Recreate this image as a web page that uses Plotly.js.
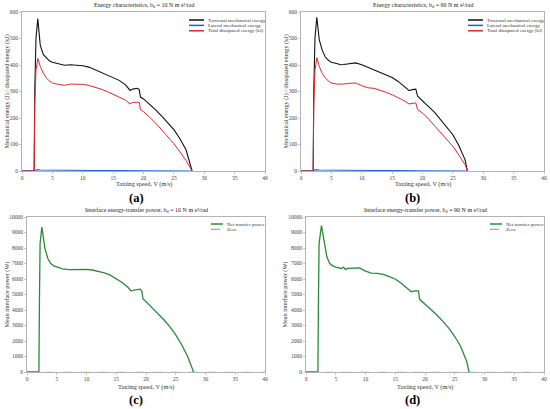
<!DOCTYPE html>
<html>
<head>
<meta charset="utf-8">
<script src="https://cdn.plot.ly/plotly-3.0.1.min.js"></script>
<style>html,body{margin:0;padding:0;background:#fff;}#chart{width:550px;height:409px;}</style>
</head>
<body>
<div id="chart"></div>
<script>
// ---------- DATA ----------
var energyNames = ["Torsional mechanical energy", "Lateral mechanical energy", "Total dissipated energy (kJ)"];
var powerNames = ["Net transfer power", "Zero"];

// Panel (a) b_d = 10
var a_speed = [0,2.0,2.1,2.3,2.6,2.8,3,3.5,4,4.5,5,6,7,8,9,10,11,12,13,14,15,16,17,17.8,18.2,19,19.3,19.5,20,21,22,23,24,25,26,27,28];
var a_torsional = [0,0,300,500,575,530,475,440,426,416,410,404,399,401,400,397,392,382,372,364,355,342,326,304,309,312,307,279,272,252,231,207,182,156,122,80,0];
var a_dissipated = [0,0,250,380,425,410,395,370,351,340,332,327,323,328,328,327,323,317,309,300,290,280,268,253,259,259,259,231,224,203,181,155,129,103,72,40,0];
var a_lat_speed = [0,2.0,2.2,2.5,3,5,8,12,16,18,19,19.5,19.8,28];
var a_lateral = [0,0,3,5,4,3,2.5,2,2,2.5,3,2.5,0.5,0];

// Panel (b) b_d = 90
var b_speed = [0,2.0,2.1,2.3,2.6,2.8,3,3.5,4,4.5,5,6,6.5,7,8,9,10,11,12,13,14,15,16,17,17.8,18.3,18.9,19.2,20,21,22,23,24,25,26,27,27.4];
var b_torsional = [0,0,300,500,580,540,496,455,430,418,410,405,401,402,405,408,401,392,382,373,364,353,338,319,303,307,309,282,263,243,221,194,166,137,95,43,0];
var b_dissipated = [0,0,250,380,428,412,395,368,351,340,332,328,327,328,331,332,322,314,312,305,297,288,277,265,253,256,257,231,219,196,171,145,119,93,60,24,0];
var b_lat_speed = [0,2.0,2.2,2.5,3,5,8,12,16,18,18.9,19.2,27.4];
var b_lateral = [0,0,3,5,4,3,2.5,2,2,2.5,3,0.5,0];

// Panel (c) b_d = 10
var c_speed = [0,2.0,2.1,2.2,2.5,2.7,3,3.5,4,4.5,5,6,7,8,9,10,11,12,13,14,15,16,17,17.5,18,19,19.3,19.5,20,21,22,23,24,25,26,27,28];
var c_power = [0,0,5000,8300,9350,8900,8000,7320,7000,6850,6770,6660,6600,6620,6620,6620,6580,6510,6400,6250,6040,5780,5450,5220,5290,5350,5230,4710,4540,4170,3790,3370,2930,2400,1760,1000,0];

// Panel (d) b_d = 90
var d_speed = [0,2.0,2.1,2.2,2.6,2.8,3,3.5,4,4.5,5,6,6.3,6.6,7,8,9,10,11,12,13,14,15,16,17,17.7,18.3,18.9,19.1,20,21,22,23,24,25,26,27,27.4];
var d_power = [0,0,5000,8300,9450,9000,8400,7430,7000,6850,6770,6680,6770,6620,6680,6720,6720,6510,6380,6360,6300,6150,6000,5720,5420,5180,5230,5230,4690,4390,4050,3680,3270,2830,2290,1650,690,0];

var zero_speed = [0, 40];
var zero_power = [0, 0];

var energyTicks = [0,100,200,300,400,500,600];
var powerTicks = [0,1000,2000,3000,4000,5000,6000,7000,8000,9000,10000];
var speedTicks = [0,5,10,15,20,25,30,35,40];

var titles = [
  "Energy characteristics, b<sub>d</sub> = 10 N m s\u00b2/rad",
  "Energy characteristics, b<sub>d</sub> = 90 N m s\u00b2/rad",
  "Interface energy-transfer power, b<sub>d</sub> = 10 N m s\u00b2/rad",
  "Interface energy-transfer power, b<sub>d</sub> = 90 N m s\u00b2/rad"
];
var panelLabels = ["(a)", "(b)", "(c)", "(d)"];
var xTitle = "Taxiing speed, V (m/s)";
var yTitleEnergy = "Mechanical energy (J) / dissipated energy (kJ)";
var yTitlePower = "Mean interface power (W)";

// ---------- STYLE ----------
var W = 550, H = 409;
function px(x){ return x / W; }
function py(y){ return 1 - y / H; }
var SERIF = "Liberation Serif, Times New Roman, serif";
var colBlack = "#111111", colBlue = "#1f5fd6", colRed = "#e5262b", colGreen = "#2a8a3a", colZero = "#444444";
var axisGray = "#a0a0a0";

// panel boxes in pixels: [left, right, top, bottom]
var boxes = [
  [22, 265, 12, 171],
  [301, 544, 12, 171],
  [27, 265, 217, 372],
  [306, 544, 217, 372]
];

function xax(b, anchor){
  return {
    domain: [px(b[0]), px(b[1])], anchor: anchor, range: [0, 40],
    tickvals: speedTicks, ticktext: speedTicks.map(String),
    showgrid: false, zeroline: false, showline: true, mirror: true,
    linecolor: axisGray, linewidth: 0.8,
    ticks: "outside", ticklen: 2, tickwidth: 0.6, tickcolor: axisGray,
    tickfont: {family: SERIF, size: 5.5, color: "#444"},
    layer: "below traces", fixedrange: true
  };
}
function yax(b, anchor, ticks, range){
  return {
    domain: [py(b[3]), py(b[2])], anchor: anchor, range: range,
    tickvals: ticks, ticktext: ticks.map(String),
    showgrid: false, zeroline: false, showline: true, mirror: true,
    linecolor: axisGray, linewidth: 0.8,
    ticks: "outside", ticklen: 2, tickwidth: 0.6, tickcolor: axisGray,
    tickfont: {family: SERIF, size: 5.5, color: "#444"},
    layer: "below traces", fixedrange: true
  };
}

var traces = [
  {x: a_speed, y: a_torsional, name: energyNames[0], xaxis: "x", yaxis: "y", mode: "lines", line: {color: colBlack, width: 1.1}},
  {x: a_lat_speed, y: a_lateral, name: energyNames[1], xaxis: "x", yaxis: "y", mode: "lines", line: {color: colBlue, width: 1.1}},
  {x: a_speed, y: a_dissipated, name: energyNames[2], xaxis: "x", yaxis: "y", mode: "lines", line: {color: colRed, width: 1}},

  {x: b_speed, y: b_torsional, name: energyNames[0], xaxis: "x2", yaxis: "y2", mode: "lines", line: {color: colBlack, width: 1.1}},
  {x: b_lat_speed, y: b_lateral, name: energyNames[1], xaxis: "x2", yaxis: "y2", mode: "lines", line: {color: colBlue, width: 1.1}},
  {x: b_speed, y: b_dissipated, name: energyNames[2], xaxis: "x2", yaxis: "y2", mode: "lines", line: {color: colRed, width: 1}},

  {x: zero_speed, y: zero_power, name: powerNames[1], xaxis: "x3", yaxis: "y3", mode: "lines", line: {color: axisGray, width: 0.5, dash: "dash"}},
  {x: c_speed, y: c_power, name: powerNames[0], xaxis: "x3", yaxis: "y3", mode: "lines", line: {color: colGreen, width: 1.3}},

  {x: zero_speed, y: zero_power, name: powerNames[1], xaxis: "x4", yaxis: "y4", mode: "lines", line: {color: axisGray, width: 0.5, dash: "dash"}},
  {x: d_speed, y: d_power, name: powerNames[0], xaxis: "x4", yaxis: "y4", mode: "lines", line: {color: colGreen, width: 1.3}}
];
traces.forEach(function(t){ t.showlegend = false; t.hoverinfo = "skip"; });

var annotations = [];
var shapes = [];

// titles, axis titles, panel labels
var titleY = [5.5, 5.5, 210, 210];
var xTitleY = [184, 184, 387, 387];
var yTitleX = [6, 285, 6, 284];
boxes.forEach(function(b, i){
  var cx = (b[0] + b[1]) / 2, cy = (b[2] + b[3]) / 2;
  annotations.push({xref: "paper", yref: "paper", x: px(cx), y: py(titleY[i]), xanchor: "center", yanchor: "middle",
    text: titles[i], showarrow: false, font: {family: SERIF, size: 6, color: "#222"}});
  annotations.push({xref: "paper", yref: "paper", x: px(cx), y: py(xTitleY[i]), xanchor: "center", yanchor: "middle",
    text: xTitle, showarrow: false, font: {family: SERIF, size: 6.2, color: "#333"}});
  annotations.push({xref: "paper", yref: "paper", x: px(yTitleX[i]), y: py(cy), xanchor: "center", yanchor: "middle",
    text: i < 2 ? yTitleEnergy : yTitlePower, textangle: -90, showarrow: false, font: {family: SERIF, size: 6.2, color: "#333"}});
  annotations.push({xref: "paper", yref: "paper", x: px(i % 2 === 0 ? 136 : 412), y: py(i < 2 ? 198 : 400), xanchor: "center", yanchor: "middle",
    text: "<b>" + panelLabels[i] + "</b>", showarrow: false, font: {family: SERIF, size: 12.5, color: "#000"}});
});

// compact legends (no frame, as in the reference)
function legend(b, items, energy){
  var right = b[1];
  var rows = energy ? [20, 25.4, 30.8] : [224, 229.3];
  var lineL, lineR, textL;
  if (energy){ lineL = right - 76; lineR = right - 61; textL = right - 59; }
  else { lineL = right - 54; lineR = right - 42; textL = right - 40; }
  items.forEach(function(it, k){
    shapes.push({type: "line", xref: "paper", yref: "paper", x0: px(lineL), x1: px(lineR), y0: py(rows[k]), y1: py(rows[k]),
      line: {color: it.color, width: it.width, dash: it.dash || "solid"}});
    annotations.push({xref: "paper", yref: "paper", x: px(textL), y: py(rows[k]), xanchor: "left", yanchor: "middle",
      text: it.name, showarrow: false, font: {family: SERIF, size: 5, color: "#333"}});
  });
}
var energyItems = [
  {name: energyNames[0], color: colBlack, width: 1.5},
  {name: energyNames[1], color: colBlue, width: 1.5},
  {name: energyNames[2], color: colRed, width: 1.5}
];
var powerItems = [
  {name: powerNames[0], color: colGreen, width: 1.5},
  {name: powerNames[1], color: colZero, width: 0.6, dash: "dash"}
];
legend(boxes[0], energyItems, true);
legend(boxes[1], energyItems, true);
legend(boxes[2], powerItems, false);
legend(boxes[3], powerItems, false);

var layout = {
  width: W, height: H, autosize: false,
  margin: {l: 0, r: 0, t: 0, b: 0, pad: 0},
  paper_bgcolor: "#fff", plot_bgcolor: "#fff",
  showlegend: false,
  font: {family: SERIF},
  xaxis: xax(boxes[0], "y"), yaxis: yax(boxes[0], "x", energyTicks, [0, 600]),
  xaxis2: xax(boxes[1], "y2"), yaxis2: yax(boxes[1], "x2", energyTicks, [0, 600]),
  xaxis3: xax(boxes[2], "y3"), yaxis3: yax(boxes[2], "x3", powerTicks, [0, 10000]),
  xaxis4: xax(boxes[3], "y4"), yaxis4: yax(boxes[3], "x4", powerTicks, [0, 10000]),
  annotations: annotations,
  shapes: shapes
};

Plotly.newPlot("chart", traces, layout, {staticPlot: true, displayModeBar: false});
</script>
</body>
</html>
